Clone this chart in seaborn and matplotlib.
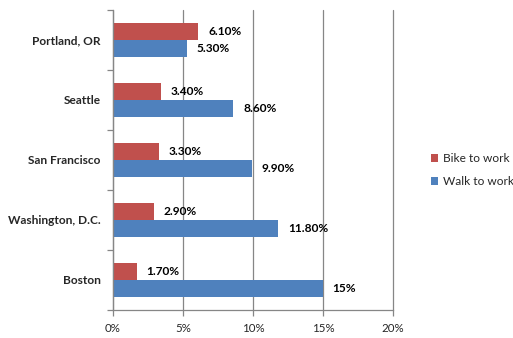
import matplotlib
matplotlib.use("Agg")
import matplotlib.pyplot as plt
import seaborn as sns
import pandas as pd
from matplotlib.patches import Patch
from matplotlib.ticker import FixedLocator, PercentFormatter

cities = ["Portland, OR", "Seattle", "San Francisco", "Washington, D.C.", "Boston"]
bike = [6.1, 3.4, 3.3, 2.9, 1.7]
walk = [5.3, 8.6, 9.9, 11.8, 15.0]
bike_labels = ["6.10%", "3.40%", "3.30%", "2.90%", "1.70%"]
walk_labels = ["5.30%", "8.60%", "9.90%", "11.80%", "15%"]
series = ["Bike to work", "Walk to work"]
colors = ["#C0504D", "#4F81BD"]
xticks = [0, 5, 10, 15, 20]

sns.set_theme(style="white")
plt.rcParams["font.family"] = ["Lato", "DejaVu Sans"]

df = pd.DataFrame({
    "city": cities * 2,
    "value": bike + walk,
    "series": [series[0]] * len(cities) + [series[1]] * len(cities),
})

fig = plt.figure(figsize=(5.13, 3.38), dpi=100)
ax = fig.add_axes([113 / 513, 28 / 338, 280 / 513, 300 / 338])

sns.barplot(data=df, y="city", x="value", hue="series", hue_order=series,
            order=cities, palette=colors, orient="h", width=0.57,
            saturation=1, ax=ax, legend=False, linewidth=0, edgecolor="none")

for cont, labs in zip(ax.containers, [bike_labels, walk_labels]):
    ax.bar_label(cont, labels=labs, padding=7, fontsize=8.6, fontweight="bold",
                 color="black")

ax.set_xlim(0, 20)
ax.set_ylim(len(cities) - 0.5, -0.5)
ax.xaxis.set_major_locator(FixedLocator(xticks))
ax.xaxis.set_major_formatter(PercentFormatter(decimals=0))
ax.grid(axis="x", color="#868686", linewidth=0.9)
for gl in ax.get_xgridlines():
    gl.set_clip_on(False)
ax.grid(axis="y", visible=False)
ax.set_axisbelow(True)
for s in ["top", "right"]:
    ax.spines[s].set_visible(False)
for s in ["left", "bottom"]:
    ax.spines[s].set_color("#868686")
    ax.spines[s].set_linewidth(0.9)
ax.set_xlabel("")
ax.set_ylabel("")
ax.tick_params(axis="x", which="major", length=4, color="#868686", width=0.9,
               direction="out", labelsize=8.3, bottom=True, pad=5)
ax.tick_params(axis="y", which="major", length=0, labelsize=8.6, pad=9)
for lab in ax.get_yticklabels():
    lab.set_fontweight("bold")
ax.yaxis.set_minor_locator(FixedLocator([i + 0.5 for i in range(-1, len(cities))]))
ax.tick_params(axis="y", which="minor", length=4, color="#868686", width=0.9,
               direction="out", left=True)

handles = [Patch(facecolor=c, edgecolor="none", label=l) for c, l in zip(colors, series)]
fig.legend(handles=handles, loc="center left", bbox_to_anchor=(420 / 513, 1 - 170 / 338),
           frameon=False, fontsize=8.6, handlelength=0.6, handleheight=0.6,
           handletextpad=0.4, labelspacing=1.0)

fig.savefig("out.png", dpi=100)
